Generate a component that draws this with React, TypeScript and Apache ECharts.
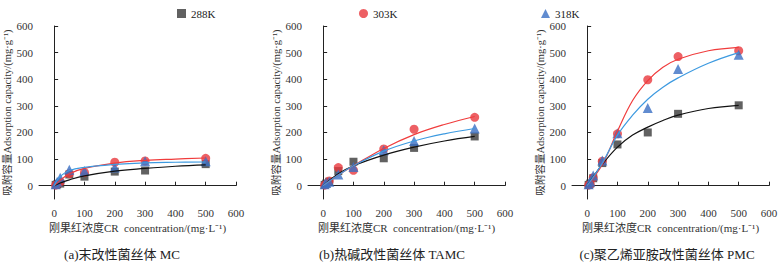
import React, { useEffect, useRef } from "react";
import * as echarts from "echarts";

const xConc = [5, 10, 20, 50, 100, 200, 300, 500];
const tickValues = [0, 100, 200, 300, 400, 500, 600];

// Panel (a) MC
const a288 = [3, 5, 8, 42, 34, 53, 57, 81];
const a303 = [2, 5, 14, 45, 50, 88, 93, 103];
const a318 = [5, 15, 30, 60, 55, 68, 92, 92];
const aFitX = [0, 20, 50, 100, 200, 300, 400, 500];
const aFit288 = [0, 10, 22, 37, 55, 65, 73, 78];
const aFit303 = [0, 20, 45, 65, 85, 95, 100, 104];
const aFit318 = [0, 35, 57, 69, 80, 86, 88, 89];

// Panel (b) TAMC
const b288 = [3, 8, 15, 55, 90, 103, 142, 185];
const b303 = [2, 5, 18, 68, 58, 138, 212, 257];
const b318 = [5, 10, 15, 42, 70, 133, 168, 215];
const bFitX = [0, 50, 100, 200, 300, 400, 500];
const bFit288 = [0, 45, 75, 115, 145, 168, 185];
const bFit303 = [0, 40, 75, 140, 192, 230, 260];
const bFit318 = [0, 40, 75, 130, 168, 195, 215];

// Panel (c) PMC
const c288 = [3, 8, 28, 85, 155, 200, 270, 302];
const c303 = [2, 5, 30, 92, 195, 398, 485, 507];
const c318 = [5, 15, 38, 95, 197, 292, 438, 492];
const cFitX = [0, 50, 100, 150, 200, 250, 300, 400, 500];
const cFit288 = [0, 80, 145, 190, 220, 245, 265, 290, 302];
const cFit303 = [0, 80, 205, 320, 395, 445, 475, 507, 520];
const cFit318 = [0, 85, 190, 265, 325, 370, 405, 460, 500];

const legendNames = ["288K", "303K", "318K"];
const subtitles = ["(a)末改性菌丝体 MC", "(b)热碱改性菌丝体 TAMC", "(c)聚乙烯亚胺改性菌丝体 PMC"];
const xName = "刚果红浓度CR  concentration/(mg·L⁻¹)";
const yName = "吸附容量Adsorption capacity/(mg·g⁻¹)";

const FONT = "'Liberation Serif', 'Noto Sans CJK SC', serif";
const COL_BLACK = "#3a3a3a";
const COL_RED = "#e8383d";
const COL_BLUE = "#3a6fc4";
const LINE_BLACK = "#111111";
const LINE_RED = "#f03c3c";
const LINE_BLUE = "#3d9ae0";

const pair = (xs: number[], ys: number[]) => xs.map((x, i) => [x, ys[i]]);

export default function App() {
  const ref = useRef<HTMLDivElement>(null);
  useEffect(() => {
    if (!ref.current) return;
    const chart = echarts.init(ref.current, undefined, { renderer: "svg" });
    const lefts = [39, 308, 572];
    const grids = lefts.map((l) => ({ left: l, top: 26, width: 197, height: 173 }));
    const axisCommon = {
      min: -50,
      max: 600,
      axisLine: { show: true, lineStyle: { color: "#222", width: 1 } },
      axisTick: { show: true, inside: true, length: 4, customValues: tickValues, lineStyle: { color: "#222" } },
      axisLabel: { customValues: tickValues, color: "#333", fontFamily: FONT, fontSize: 11 },
      splitLine: { show: false },
    };
    const xAxes = lefts.map((_, i) => ({
      ...axisCommon,
      type: "value",
      gridIndex: i,
      name: xName,
      nameLocation: "middle",
      nameGap: 22,
      nameTextStyle: { color: "#333", fontFamily: FONT, fontSize: 11 },
      axisLabel: { ...axisCommon.axisLabel, margin: 8 },
    }));
    const yAxes = lefts.map((_, i) => ({
      ...axisCommon,
      type: "value",
      gridIndex: i,
      name: yName,
      nameLocation: "middle",
      nameGap: 22,
      nameTextStyle: { color: "#333", fontFamily: FONT, fontSize: 10.5 },
      axisLabel: { ...axisCommon.axisLabel, margin: 6 },
    }));
    const pts = [
      [a288, a303, a318],
      [b288, b303, b318],
      [c288, c303, c318],
    ];
    const fitX = [aFitX, bFitX, cFitX];
    const fits = [
      [aFit288, aFit303, aFit318],
      [bFit288, bFit303, bFit318],
      [cFit288, cFit303, cFit318],
    ];
    const symbols = ["rect", "circle", "triangle"];
    const sizes = [8, 9, 10];
    const ptCols = [COL_BLACK, COL_RED, COL_BLUE];
    const lineCols = [LINE_BLACK, LINE_RED, LINE_BLUE];
    const series: any[] = [];
    for (let p = 0; p < 3; p++) {
      for (let s = 0; s < 3; s++) {
        series.push({
          type: "scatter",
          name: legendNames[s],
          xAxisIndex: p,
          yAxisIndex: p,
          symbol: symbols[s],
          symbolSize: sizes[s],
          itemStyle: { color: ptCols[s] },
          data: pair(xConc, pts[p][s]),
          z: 2,
        });
      }
      for (let s = 0; s < 3; s++) {
        series.push({
          type: "line",
          name: "fit-" + legendNames[s] + "-" + p,
          xAxisIndex: p,
          yAxisIndex: p,
          smooth: 0.4,
          symbol: "none",
          lineStyle: { color: lineCols[s], width: 1.2 },
          data: pair(fitX[p], fits[p][s]),
          z: 3,
        });
      }
    }
    const legendLefts = [172, 354, 536];
    const legends = legendNames.map((n, i) => ({
      data: [n],
      left: legendLefts[i],
      top: 3,
      itemWidth: 9,
      itemHeight: 9,
      itemGap: 8,
      selectedMode: false,
      textStyle: { color: "#222", fontFamily: FONT, fontSize: 11 },
    }));
    const subCenters = [122, 392, 667];
    chart.setOption({
      animation: false,
      backgroundColor: "#fff",
      grid: grids,
      xAxis: xAxes,
      yAxis: yAxes,
      legend: legends,
      series,
      graphic: subtitles.map((t, i) => ({
        type: "text",
        x: subCenters[i],
        y: 254,
        style: {
          text: t,
          fill: "#222",
          font: `13px ${FONT}`,
          textAlign: "center",
          textVerticalAlign: "middle",
        },
      })),
    });
    return () => chart.dispose();
  }, []);
  return <div ref={ref} style={{ width: 782, height: 266, position: "absolute", left: 0, top: 0 }} />;
}
